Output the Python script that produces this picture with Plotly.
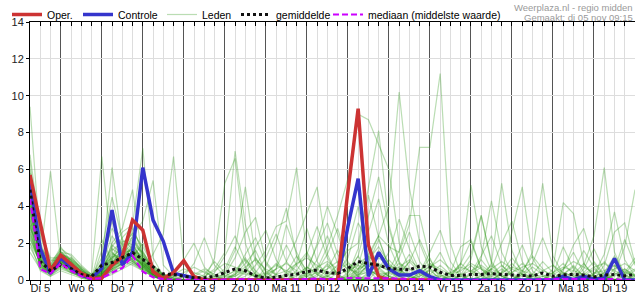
import pandas as pd
import plotly.graph_objects as go

# ---------------- data (mm per 6 hours) ----------------
start = "2024-11-05 06:00"
n_steps = 60
day_labels = ["Di 5", "Wo 6", "Do 7", "Vr 8", "Za 9", "Zo 10", "Ma 11", "Di 12",
              "Wo 13", "Do 14", "Vr 15", "Za 16", "Zo 17", "Ma 18", "Di 19"]

oper = [5.7, 3.0, 0.5, 1.35, 0.85, 0.36, 0.1, 0.1, 0.8, 1.26,
        3.25, 2.7, 0.45, 0.08, 0.4, 1.05, 0.18, 0.0, 0.0, 0.0,
        0.0, 0.0, 0.0, 0.0, 0.0, 0.0, 0.0, 0.0, 0.0, 0.0,
        0.0, 4.8, 9.3, 1.9, 0.18, 0.0, 0.0, 0.0, 0.0, 0.0]

controle = [5.4, 1.7, 0.36, 1.2, 0.7, 0.27, 0.1, 0.63, 3.8, 0.8,
            1.5, 6.1, 3.25, 2.1, 0.36, 0.25, 0.1, 0.0, 0.0, 0.0,
            0.0, 0.0, 0.0, 0.0, 0.0, 0.0, 0.0, 0.0, 0.0, 0.0,
            0.0, 2.9, 5.5, 0.2, 1.5, 0.6, 0.27, 0.27, 0.5, 0.18,
            0.0, 0.0, 0.0, 0.0, 0.0, 0.0, 0.0, 0.0, 0.0, 0.0,
            0.0, 0.0, 0.2, 0.02, 0.2, 0.05, 0.08, 1.17, 0.0, 0.0]

gemiddelde = [4.9, 1.0, 0.5, 0.82, 0.62, 0.3, 0.18, 0.8, 0.95, 1.2,
              1.48, 1.12, 0.7, 0.33, 0.3, 0.2, 0.12, 0.12, 0.2, 0.4,
              0.6, 0.5, 0.22, 0.1, 0.15, 0.25, 0.32, 0.45, 0.54, 0.4,
              0.35, 0.63, 1.0, 0.9, 0.8, 0.63, 0.58, 0.55, 0.76, 0.7,
              0.42, 0.25, 0.25, 0.3, 0.3, 0.35, 0.3, 0.27, 0.22, 0.22,
              0.38, 0.2, 0.28, 0.3, 0.27, 0.17, 0.27, 0.3, 0.22, 0.3]

mediaan = [4.4, 0.6, 0.35, 0.9, 0.5, 0.2, 0.05, 0.1, 0.4, 0.65,
           1.32, 0.45, 0.15, 0.05, 0.02, 0.0, 0.0, 0.0, 0.0, 0.02,
           0.05, 0.05, 0.0, 0.0, 0.0, 0.02, 0.02, 0.05, 0.08, 0.05,
           0.05, 0.1, 0.1, 0.12, 0.1, 0.1, 0.08, 0.05, 0.05, 0.05,
           0.02, 0.0, 0.0, 0.0, 0.0, 0.02, 0.02, 0.0, 0.0, 0.0,
           0.05, 0.05, 0.05, 0.05, 0.05, 0.0, 0.05, 0.05, 0.0, 0.0]

leden_01 = [9.4, 2.0, 0.8, 1.5, 1.0, 0.4, 0.1, 0.5, 1.2, 1.8,  2.2, 1.5, 0.6, 0.2, 0.1, 0.0, 0.0, 0.1, 0.0, 0.2,
            0.5, 1.2, 0.3, 0.0, 0.0, 0.2, 0.8, 1.5, 0.6, 0.2,  0.0, 0.0, 0.3, 0.8, 0.4, 0.1, 0.0, 0.0, 0.2, 0.5,
            0.1, 0.0, 0.0, 0.0, 0.3, 0.8, 0.2, 0.0, 0.0, 0.0,  0.0, 0.1, 0.4, 0.2, 0.0, 0.0, 0.0, 0.3, 0.6, 0.2]
leden_02 = [6.5, 1.2, 5.9, 1.0, 0.5, 0.2, 0.0, 0.3, 0.8, 1.0,  1.6, 0.9, 0.4, 0.1, 0.0, 0.0, 0.0, 0.0, 0.2, 0.6,
            1.8, 0.7, 0.1, 0.0, 0.0, 0.0, 0.0, 0.3, 1.1, 2.4,  0.9, 0.2, 0.0, 0.0, 0.1, 0.4, 0.2, 0.0, 0.0, 0.0,
            0.0, 0.2, 0.9, 2.1, 0.6, 0.1, 0.0, 0.0, 0.0, 0.3,  1.0, 0.4, 0.0, 0.0, 0.0, 0.2, 0.1, 0.0, 0.0, 0.0]
leden_03 = [4.8, 0.9, 0.4, 1.3, 0.8, 0.3, 0.2, 6.7, 1.5, 0.9,  1.2, 2.0, 0.8, 0.3, 0.0, 0.0, 0.0, 0.0, 0.0, 0.0,
            0.3, 0.9, 1.6, 0.4, 0.0, 0.0, 0.0, 0.0, 0.0, 0.2,  0.6, 1.8, 4.0, 1.2, 0.3, 0.0, 0.0, 0.0, 0.0, 0.0,
            0.0, 0.0, 0.0, 0.1, 0.0, 0.0, 0.4, 1.2, 0.5, 0.0,  0.0, 0.0, 0.0, 0.3, 0.9, 0.2, 0.0, 0.0, 0.0, 0.0]
leden_04 = [3.6, 1.5, 0.6, 0.9, 1.2, 0.6, 0.1, 1.0, 6.1, 2.0,  1.4, 0.7, 0.3, 0.1, 0.0, 0.0, 0.2, 0.5, 0.1, 0.0,
            0.0, 0.0, 0.0, 0.2, 0.6, 1.9, 0.8, 0.1, 0.0, 0.0,  0.0, 0.2, 1.0, 0.6, 0.2, 0.0, 0.5, 1.4, 0.3, 0.0,
            0.0, 0.0, 0.2, 0.0, 0.0, 0.0, 0.0, 0.0, 0.3, 0.1,  0.0, 0.0, 0.6, 1.5, 0.4, 0.0, 0.0, 0.0, 0.0, 0.2]
leden_05 = [5.2, 0.7, 0.3, 1.1, 0.6, 0.3, 0.1, 0.4, 1.8, 2.6,  3.0, 7.15, 1.2, 0.2, 0.0, 0.0, 0.0, 0.0, 0.0, 0.0,
            0.0, 0.4, 1.2, 0.5, 0.0, 0.0, 0.0, 0.0, 0.2, 0.9,  0.3, 0.0, 0.0, 0.2, 0.6, 0.2, 0.0, 0.0, 0.0, 0.0,
            0.0, 0.0, 0.0, 0.3, 1.1, 0.4, 0.0, 0.0, 0.0, 0.0,  0.2, 0.0, 0.0, 0.0, 0.0, 0.0, 0.4, 1.3, 0.3, 0.0]
leden_06 = [2.8, 1.8, 1.0, 1.6, 0.9, 0.5, 0.2, 0.2, 0.6, 1.2,  2.4, 3.2, 5.4, 0.8, 0.2, 0.0, 0.0, 0.0, 0.0, 0.0,
            0.0, 0.0, 0.0, 0.0, 0.0, 0.3, 0.9, 2.8, 1.0, 0.2,  0.0, 0.0, 0.0, 0.4, 1.6, 0.7, 0.1, 0.0, 0.0, 0.0,
            0.0, 0.0, 0.0, 0.0, 0.0, 0.2, 0.6, 0.2, 0.0, 0.0,  0.0, 0.3, 1.8, 0.6, 0.0, 0.0, 0.0, 0.0, 0.2, 0.5]
leden_07 = [4.2, 1.1, 0.5, 0.8, 0.4, 0.2, 0.0, 0.8, 2.4, 1.5,  1.0, 0.6, 1.4, 2.5, 6.7, 0.9, 0.1, 0.0, 0.0, 0.0,
            0.0, 0.0, 0.0, 0.0, 0.0, 0.0, 0.0, 0.0, 0.3, 0.8,  0.2, 0.0, 0.0, 0.0, 0.0, 0.0, 0.3, 1.0, 0.4, 0.0,
            0.0, 0.0, 0.0, 0.0, 0.0, 0.0, 0.0, 0.6, 1.9, 0.5,  0.0, 0.0, 0.0, 0.0, 0.0, 0.0, 0.2, 0.0, 0.0, 0.0]
leden_08 = [3.0, 0.8, 0.3, 1.4, 1.1, 0.7, 0.3, 0.1, 0.5, 0.9,  1.9, 1.0, 0.5, 0.2, 0.0, 0.0, 0.0, 0.0, 1.2, 5.25,
            6.6, 2.0, 0.4, 0.0, 0.0, 0.0, 0.0, 0.0, 0.0, 0.0,  0.0, 0.4, 1.3, 0.5, 0.0, 0.0, 0.0, 0.0, 0.0, 0.6,
            1.5, 0.4, 0.0, 0.0, 0.0, 0.0, 0.0, 0.0, 0.0, 0.0,  0.0, 0.0, 0.0, 0.0, 0.4, 1.0, 0.3, 0.0, 0.0, 0.0]
leden_09 = [5.8, 2.4, 1.1, 1.0, 0.6, 0.3, 0.1, 2.2, 1.0, 0.8,  1.5, 0.8, 0.2, 0.0, 0.0, 0.0, 0.0, 0.2, 0.6, 1.5,
            7.0, 3.0, 1.0, 0.2, 0.0, 0.0, 0.0, 0.0, 0.0, 0.0,  0.0, 0.0, 0.2, 0.9, 2.2, 0.8, 0.2, 0.0, 0.0, 0.0,
            0.0, 0.0, 0.0, 0.0, 0.2, 0.0, 0.0, 0.0, 0.0, 0.0,  0.0, 0.0, 0.3, 0.8, 0.2, 0.0, 0.0, 0.0, 0.0, 0.0]
leden_10 = [2.2, 1.0, 0.7, 1.2, 0.7, 0.4, 0.2, 0.6, 3.2, 1.6,  1.1, 0.5, 0.2, 0.0, 0.0, 0.0, 0.0, 0.0, 0.0, 0.4,
            1.6, 5.05, 1.2, 0.2, 0.0, 0.0, 0.0, 0.0, 0.0, 0.0, 0.0, 0.0, 0.0, 0.0, 0.0, 0.3, 1.2, 2.6, 1.0, 0.2,
            0.0, 0.0, 0.0, 0.0, 0.0, 0.0, 0.0, 0.0, 0.0, 0.0,  0.0, 0.0, 0.0, 0.0, 0.0, 0.0, 0.0, 0.6, 2.2, 0.8]
leden_11 = [6.0, 1.4, 0.6, 1.7, 1.3, 0.6, 0.1, 0.3, 0.9, 1.3,  2.8, 1.6, 0.5, 0.0, 0.0, 0.0, 0.0, 0.0, 0.0, 0.0,
            0.0, 0.2, 0.8, 1.6, 2.9, 3.2, 6.1, 1.4, 0.3, 0.0,  0.0, 0.0, 0.0, 0.0, 0.0, 0.2, 0.6, 0.2, 0.0, 0.0,
            0.0, 0.0, 0.0, 0.0, 0.0, 0.0, 0.0, 0.0, 0.2, 0.7,  0.3, 0.0, 0.0, 0.0, 0.0, 0.0, 0.0, 0.0, 0.0, 0.0]
leden_12 = [3.4, 0.6, 0.2, 0.7, 0.5, 0.2, 0.0, 0.4, 1.2, 2.0,  2.5, 1.3, 0.6, 0.3, 0.1, 0.0, 0.0, 0.0, 0.0, 0.0,
            0.0, 0.0, 0.0, 0.0, 0.3, 1.0, 2.2, 3.6, 5.05, 1.4, 0.2, 0.0, 0.0, 0.0, 0.0, 0.0, 0.0, 0.0, 0.0, 0.0,
            0.0, 0.0, 0.3, 1.1, 3.5, 0.9, 0.2, 0.0, 0.0, 0.0,  0.0, 0.0, 0.0, 0.0, 0.0, 0.0, 0.0, 0.0, 0.0, 0.3]
leden_13 = [4.5, 1.3, 0.4, 1.1, 0.8, 0.4, 0.1, 0.2, 0.7, 1.1,  1.8, 1.2, 0.4, 0.1, 0.0, 0.0, 0.0, 0.0, 0.0, 0.0,
            0.0, 0.0, 0.0, 0.0, 0.0, 0.0, 0.0, 0.2, 0.6, 1.8,  3.5, 5.5, 9.0, 8.7, 7.3, 6.0, 2.0, 0.6, 0.1, 0.0,
            0.0, 0.0, 0.0, 0.0, 0.0, 0.0, 0.0, 0.0, 0.0, 0.2,  0.0, 0.0, 0.0, 0.0, 0.0, 0.0, 0.0, 0.0, 0.0, 0.0]
leden_14 = [2.6, 0.9, 0.5, 0.9, 0.6, 0.3, 0.1, 0.3, 0.6, 0.9,  1.3, 0.8, 0.3, 0.0, 0.0, 0.0, 0.0, 0.0, 0.0, 0.0,
            0.4, 1.1, 0.5, 0.0, 0.0, 0.0, 0.0, 0.0, 0.0, 0.3,  0.8, 1.6, 2.0, 5.0, 8.1, 3.0, 1.0, 0.3, 0.0, 0.0,
            0.0, 0.0, 0.0, 0.0, 0.0, 0.0, 0.3, 0.9, 0.3, 0.0,  0.0, 0.0, 0.0, 0.0, 0.0, 0.0, 0.0, 0.0, 0.4, 1.2]
leden_15 = [5.0, 1.6, 0.7, 1.3, 0.7, 0.3, 0.0, 0.1, 0.4, 0.8,  1.2, 0.9, 0.6, 0.2, 0.0, 0.0, 0.0, 0.0, 0.0, 0.0,
            0.0, 0.0, 0.0, 0.0, 0.0, 0.0, 0.2, 0.7, 0.3, 0.0,  0.0, 0.0, 0.6, 1.4, 2.4, 4.0, 10.2, 5.0, 2.0, 0.6,
            0.0, 0.0, 0.0, 0.0, 0.0, 0.0, 0.0, 0.0, 0.0, 0.0,  0.0, 0.0, 0.0, 0.0, 0.2, 0.6, 0.1, 0.0, 0.0, 0.0]
leden_16 = [3.8, 1.2, 0.4, 1.0, 0.9, 0.5, 0.2, 0.7, 1.4, 1.2,  1.0, 0.6, 0.2, 0.0, 0.0, 0.0, 0.0, 0.0, 0.0, 0.0,
            0.0, 0.0, 0.0, 0.0, 0.0, 0.0, 0.0, 0.0, 0.0, 0.2,  0.5, 0.9, 0.6, 1.2, 2.4, 1.8, 1.5, 3.0, 7.2, 7.2,
            11.2, 2.0, 0.3, 0.0, 0.0, 0.0, 0.0, 0.0, 0.0, 0.0, 0.0, 0.0, 0.0, 0.0, 0.0, 0.0, 0.0, 0.0, 0.0, 0.0]
leden_17 = [1.8, 0.7, 0.3, 0.6, 0.4, 0.2, 0.0, 0.2, 0.5, 0.7,  1.0, 0.6, 0.3, 0.1, 0.0, 0.0, 0.0, 0.0, 0.0, 0.0,
            0.0, 0.0, 0.0, 0.0, 0.0, 0.4, 1.3, 0.5, 0.0, 0.0,  0.0, 0.0, 0.0, 0.0, 0.0, 0.0, 0.0, 0.0, 0.4, 1.2,
            0.0, 0.2, 0.8, 5.15, 1.8, 0.5, 0.0, 0.0, 0.0, 0.0, 0.0, 0.0, 0.0, 0.0, 0.0, 0.0, 0.0, 0.0, 0.0, 0.0]
leden_18 = [4.0, 1.0, 0.6, 1.2, 0.5, 0.1, 0.0, 1.6, 4.5, 2.2,  1.7, 1.1, 0.4, 0.1, 0.0, 0.0, 0.0, 0.0, 0.0, 0.0,
            0.0, 0.0, 0.0, 0.0, 0.0, 0.0, 0.0, 0.0, 0.0, 0.0,  0.0, 0.0, 0.5, 1.0, 0.3, 0.0, 0.0, 0.0, 0.0, 0.0,
            0.0, 0.0, 0.0, 0.0, 1.2, 4.3, 1.5, 0.4, 0.0, 0.0,  0.0, 0.0, 0.0, 0.0, 0.0, 0.3, 1.0, 0.4, 0.0, 0.0]
leden_19 = [2.0, 0.5, 0.2, 0.5, 0.3, 0.1, 0.0, 0.1, 0.3, 0.6,  0.9, 0.5, 0.2, 0.0, 0.0, 0.0, 0.0, 0.0, 0.0, 0.0,
            0.2, 0.6, 0.2, 0.0, 0.0, 0.0, 0.0, 0.0, 0.0, 0.0,  0.0, 0.0, 0.0, 0.0, 0.0, 0.0, 0.0, 0.0, 0.0, 0.3,
            0.8, 0.3, 0.0, 0.0, 0.0, 0.9, 5.25, 1.6, 0.3, 0.0, 0.0, 0.0, 0.0, 0.0, 0.0, 0.0, 0.0, 0.0, 0.0, 0.0]
leden_20 = [3.2, 1.7, 0.9, 1.5, 1.4, 0.8, 0.3, 0.2, 0.6, 1.0,  1.6, 1.3, 0.7, 0.3, 0.1, 0.0, 0.0, 0.0, 0.0, 0.0,
            0.0, 0.0, 0.0, 0.0, 0.0, 0.0, 0.0, 0.0, 0.0, 0.0,  0.0, 0.0, 0.0, 0.0, 0.0, 0.0, 0.0, 0.0, 0.0, 0.0,
            0.0, 0.0, 0.0, 0.0, 0.0, 0.0, 0.4, 2.6, 5.05, 1.2, 0.2, 0.0, 0.0, 0.0, 0.0, 0.0, 0.0, 0.0, 0.0, 0.0]
leden_21 = [5.5, 1.9, 0.8, 1.8, 1.0, 0.4, 0.1, 0.5, 1.1, 1.4,  2.0, 1.0, 0.3, 0.0, 0.0, 0.0, 0.0, 0.0, 0.0, 0.0,
            0.0, 0.0, 0.0, 0.0, 0.0, 0.0, 0.0, 0.0, 0.0, 0.0,  0.0, 0.0, 0.0, 0.0, 0.0, 0.0, 0.0, 0.0, 0.2, 0.6,
            0.3, 0.0, 0.0, 0.0, 0.0, 0.0, 0.0, 0.0, 0.4, 1.5,  5.25, 1.3, 0.3, 0.0, 0.0, 0.0, 0.0, 0.0, 0.0, 0.0]
leden_22 = [2.4, 0.8, 0.4, 1.0, 0.7, 0.4, 0.1, 0.3, 0.9, 1.7,  2.1, 1.4, 0.5, 0.2, 0.0, 0.0, 0.0, 0.0, 0.0, 0.0,
            0.0, 0.0, 0.0, 0.0, 0.0, 0.0, 0.0, 0.0, 0.0, 0.0,  0.0, 0.0, 0.3, 0.6, 0.2, 0.0, 0.0, 0.0, 0.0, 0.0,
            0.0, 0.0, 0.0, 0.0, 0.0, 0.0, 0.0, 0.0, 0.0, 0.0,  0.0, 0.6, 4.2, 3.6, 0.9, 0.2, 0.0, 0.0, 0.0, 0.0]
leden_23 = [4.6, 1.4, 0.5, 1.4, 1.2, 0.7, 0.2, 0.4, 0.7, 1.0,  1.4, 1.1, 0.5, 0.2, 0.0, 0.0, 0.0, 0.0, 0.0, 0.0,
            0.0, 0.0, 0.0, 0.0, 0.0, 0.0, 0.0, 0.0, 0.0, 0.0,  0.0, 0.0, 0.0, 0.0, 0.0, 0.0, 0.0, 0.0, 0.0, 0.0,
            0.0, 0.0, 0.0, 0.0, 0.0, 0.0, 0.0, 0.0, 0.0, 0.0,  0.0, 0.0, 0.0, 0.0, 0.8, 2.4, 6.1, 1.5, 0.3, 0.0]
leden_24 = [1.5, 0.6, 0.3, 0.8, 0.6, 0.3, 0.1, 0.3, 1.0, 1.4,  1.7, 0.9, 0.3, 0.0, 0.0, 0.0, 0.0, 0.0, 0.0, 0.0,
            0.0, 0.0, 0.0, 0.3, 0.9, 0.4, 0.0, 0.0, 0.0, 0.0,  0.0, 0.0, 0.0, 0.0, 0.0, 0.0, 0.0, 0.0, 0.0, 0.0,
            0.0, 0.0, 0.0, 0.0, 0.0, 0.0, 0.0, 0.0, 0.0, 0.0,  0.0, 0.0, 0.0, 0.0, 0.0, 0.3, 1.4, 3.7, 1.1, 0.2]
leden_25 = [3.0, 1.1, 0.6, 1.1, 0.8, 0.4, 0.2, 0.9, 1.7, 1.3,  1.3, 0.7, 0.2, 0.0, 0.0, 0.0, 0.0, 0.0, 0.0, 0.0,
            0.0, 0.0, 0.0, 0.0, 0.0, 0.0, 0.0, 0.0, 0.0, 0.0,  0.0, 0.0, 0.0, 0.0, 0.0, 0.0, 0.0, 0.0, 0.0, 0.0,
            0.0, 0.0, 0.0, 0.0, 0.0, 0.0, 0.0, 0.0, 0.0, 0.0,  0.0, 0.0, 0.0, 0.0, 0.0, 0.0, 0.0, 0.4, 1.8, 4.9]
leden_26 = [4.3, 0.9, 0.3, 0.9, 0.7, 0.2, 0.0, 0.6, 1.3, 1.1,  0.9, 0.6, 0.3, 0.1, 0.0, 0.0, 0.0, 0.0, 0.0, 0.0,
            0.0, 0.0, 0.0, 0.0, 0.0, 0.0, 0.0, 0.0, 0.0, 0.0,  0.0, 0.0, 0.0, 0.0, 0.0, 0.0, 0.0, 0.0, 0.0, 0.0,
            0.0, 0.0, 0.6, 1.4, 3.5, 1.0, 0.2, 0.0, 0.0, 0.0,  0.0, 0.0, 0.0, 0.0, 0.0, 0.0, 0.0, 0.0, 0.0, 0.0]
leden_27 = [3.5, 1.3, 0.7, 1.3, 1.0, 0.5, 0.2, 0.5, 2.0, 2.8,  4.9, 1.0, 0.4, 0.1, 0.0, 0.2, 0.9, 2.3, 0.8, 0.2,
            0.2, 0.5, 0.3, 0.1, 0.0, 0.0, 0.3, 0.7, 0.4, 0.1,  0.0, 0.2, 0.6, 0.9, 0.5, 0.2, 0.0, 0.0, 0.3, 0.8,
            0.5, 0.1, 0.0, 0.0, 0.2, 0.6, 0.3, 0.0, 0.0, 0.0,  0.0, 0.4, 0.9, 0.3, 0.0, 0.0, 0.0, 0.2, 0.5, 0.1]
leden_28 = [2.0, 1.0, 0.5, 1.1, 0.8, 0.3, 0.1, 0.4, 0.8, 1.1,  1.4, 0.8, 0.3, 0.0, 0.0, 0.0, 0.0, 0.0, 0.0, 0.3,
            1.2, 2.6, 3.4, 1.0, 0.3, 0.0, 0.0, 0.0, 0.0, 0.0,  0.0, 0.0, 0.4, 1.1, 1.8, 0.9, 0.4, 0.2, 0.0, 0.0,
            0.0, 0.0, 0.0, 0.3, 0.7, 0.2, 0.0, 0.0, 0.5, 1.3,  0.6, 0.1, 0.0, 0.0, 0.0, 0.0, 0.3, 0.8, 0.2, 0.0]
leden_29 = [6.8, 2.6, 1.2, 1.2, 0.5, 0.3, 0.1, 0.2, 0.5, 0.9,  1.1, 0.7, 0.2, 0.0, 0.0, 0.0, 0.0, 0.0, 0.0, 0.0,
            0.0, 0.0, 0.0, 0.0, 0.6, 3.0, 1.5, 0.4, 0.0, 0.0,  0.0, 0.0, 0.2, 0.5, 0.8, 0.5, 0.3, 1.0, 2.2, 0.9,
            0.2, 0.0, 0.0, 0.0, 0.0, 0.0, 0.0, 0.4, 0.9, 0.3,  0.0, 0.0, 0.0, 0.5, 1.6, 0.7, 0.1, 0.0, 0.0, 0.0]
leden_30 = [2.9, 0.7, 0.4, 0.7, 0.4, 0.2, 0.1, 0.3, 0.9, 1.6,  2.6, 1.8, 0.8, 0.3, 0.1, 0.0, 0.0, 0.0, 0.0, 0.0,
            0.0, 0.0, 0.0, 0.0, 0.0, 0.0, 0.0, 0.4, 2.0, 4.0,  2.5, 0.8, 0.2, 0.0, 0.0, 0.0, 0.0, 0.0, 0.0, 0.0,
            0.0, 0.0, 0.2, 0.8, 0.3, 0.0, 0.0, 0.0, 0.0, 0.0,  0.0, 0.0, 0.0, 0.0, 0.0, 0.4, 0.2, 0.0, 0.3, 1.0]
leden_31 = [4.9, 1.5, 0.6, 1.0, 0.6, 0.3, 0.1, 0.4, 1.0, 1.2,  1.5, 0.8, 0.3, 0.0, 0.0, 0.0, 0.0, 0.0, 0.0, 0.0,
            0.0, 0.0, 0.4, 1.2, 2.5, 1.0, 0.3, 0.0, 0.0, 0.0,  0.0, 0.0, 0.0, 0.3, 0.6, 1.1, 0.5, 0.1, 0.0, 0.0,
            0.0, 0.4, 1.8, 2.2, 0.6, 0.0, 0.0, 0.0, 0.0, 0.0,  0.0, 0.0, 0.0, 0.0, 0.0, 0.0, 0.0, 0.3, 0.6, 0.2]
leden_32 = [3.3, 1.2, 0.5, 1.2, 0.9, 0.5, 0.2, 1.2, 2.8, 1.9,  1.2, 0.8, 0.4, 0.1, 0.0, 0.0, 0.0, 0.0, 0.0, 0.0,
            0.0, 0.0, 0.0, 0.0, 0.0, 0.0, 0.0, 0.0, 0.5, 1.4,  2.8, 1.0, 0.3, 0.4, 0.9, 0.6, 0.2, 0.0, 0.0, 0.0,
            0.0, 0.0, 0.0, 0.0, 0.0, 0.3, 0.8, 0.3, 0.0, 0.0,  0.0, 0.0, 0.3, 0.7, 0.2, 0.0, 0.0, 0.0, 0.0, 0.0]
leden_33 = [4.1, 1.2, 0.5, 1.0, 0.7, 0.3, 0.1, 0.6, 1.5, 1.0,  0.8, 0.5, 0.2, 0.0, 0.3, 1.1, 2.0, 0.7, 0.2, 0.0,
            0.0, 0.5, 1.8, 2.7, 1.1, 0.3, 0.0, 0.0, 0.0, 0.0,  0.4, 1.2, 3.1, 2.0, 0.7, 0.2, 0.0, 0.0, 0.0, 0.0,
            0.0, 0.0, 0.0, 0.4, 1.3, 2.4, 0.8, 0.2, 0.0, 0.0,  0.0, 0.0, 0.0, 0.0, 0.6, 1.7, 0.5, 0.0, 0.0, 0.0]
leden_34 = [2.7, 0.8, 0.3, 0.8, 0.5, 0.2, 0.0, 0.3, 0.9, 1.3,  1.7, 1.0, 0.4, 0.1, 0.0, 0.0, 0.0, 0.0, 0.4, 1.3,
            2.4, 1.0, 0.3, 0.0, 0.0, 0.0, 0.5, 1.4, 2.9, 1.2,  0.3, 0.0, 0.8, 2.6, 4.4, 1.9, 0.6, 0.1, 0.0, 0.0,
            0.0, 0.0, 0.0, 0.0, 0.0, 0.0, 0.0, 0.0, 0.3, 0.9,  2.3, 0.8, 0.2, 0.0, 0.0, 0.0, 0.0, 0.0, 0.0, 0.0]
leden_35 = [5.3, 1.7, 0.7, 1.5, 1.1, 0.5, 0.2, 0.4, 1.1, 1.9,  2.3, 1.2, 0.5, 0.2, 0.0, 0.0, 0.0, 0.3, 1.0, 0.4,
            0.0, 0.0, 0.0, 0.7, 2.1, 3.9, 1.3, 0.2, 0.0, 0.0,  0.0, 0.0, 0.0, 0.0, 0.6, 1.5, 3.3, 1.7, 0.5, 0.0,
            0.0, 0.3, 0.9, 0.4, 0.0, 0.0, 0.0, 0.0, 0.0, 0.0,  0.0, 0.0, 0.5, 1.9, 2.8, 0.9, 0.2, 0.0, 0.0, 0.0]
leden_36 = [3.9, 1.1, 0.6, 1.2, 0.8, 0.4, 0.1, 0.7, 1.9, 1.4,  1.1, 0.7, 0.3, 0.0, 0.0, 0.0, 0.0, 0.0, 0.0, 0.0,
            0.0, 0.0, 0.0, 0.0, 0.0, 0.0, 0.0, 0.6, 1.9, 3.1,  1.4, 0.5, 1.3, 3.4, 5.6, 2.8, 0.9, 0.2, 0.0, 0.0,
            0.0, 0.0, 0.0, 0.0, 0.0, 0.6, 2.0, 3.2, 1.0, 0.2,  0.0, 0.0, 0.0, 0.0, 0.0, 0.0, 0.0, 0.0, 0.0, 0.0]
leden_37 = [2.3, 0.9, 0.4, 0.9, 0.6, 0.3, 0.1, 0.2, 0.7, 1.2,  1.9, 1.5, 0.7, 0.2, 0.0, 0.0, 0.0, 0.0, 0.0, 0.0,
            0.3, 1.4, 2.3, 0.9, 0.2, 0.0, 0.0, 0.0, 0.0, 0.6,  1.6, 0.7, 0.2, 0.0, 0.0, 0.5, 1.6, 3.5, 3.5, 1.1,
            0.3, 0.0, 0.0, 0.0, 0.0, 0.0, 0.0, 0.0, 0.0, 0.0,  0.0, 0.0, 0.0, 0.0, 0.0, 0.0, 0.8, 2.6, 3.1, 0.9]
leden_38 = [4.7, 1.3, 0.5, 1.3, 1.0, 0.6, 0.2, 0.3, 0.6, 0.9,  1.3, 0.9, 0.4, 0.1, 0.0, 0.0, 0.0, 0.0, 0.0, 0.0,
            0.0, 0.0, 0.0, 0.0, 0.0, 0.0, 0.0, 0.0, 0.0, 0.0,  0.0, 0.3, 1.7, 4.6, 2.3, 0.6, 0.0, 0.0, 0.4, 1.5,
            2.7, 1.0, 0.2, 0.0, 0.0, 0.0, 0.0, 0.0, 0.0, 0.0,  0.0, 0.0, 0.0, 0.0, 0.0, 0.0, 0.0, 0.0, 0.0, 0.0]
leden_39 = [3.1, 1.0, 0.4, 1.1, 0.8, 0.4, 0.1, 0.5, 1.3, 2.3,  2.9, 1.4, 0.5, 0.1, 0.0, 0.0, 0.0, 0.0, 0.0, 0.0,
            0.0, 0.0, 0.0, 0.0, 0.0, 0.0, 0.0, 0.0, 0.0, 0.0,  0.0, 0.0, 0.0, 0.0, 0.0, 0.0, 0.0, 0.0, 0.0, 0.0,
            0.0, 0.0, 0.0, 0.0, 0.0, 0.0, 0.0, 0.0, 0.0, 0.0,  0.0, 0.0, 0.0, 0.0, 0.0, 0.0, 0.0, 0.0, 0.0, 0.0]
leden_40 = [3.7, 1.4, 0.7, 1.4, 1.1, 0.6, 0.3, 0.8, 1.2, 1.5,  1.6, 0.9, 0.4, 0.2, 0.3, 0.6, 0.4, 0.2, 0.5, 0.9,
            0.7, 0.4, 0.2, 0.3, 0.6, 0.9, 0.5, 0.3, 0.7, 1.0,  0.6, 0.4, 0.9, 1.3, 0.8, 0.5, 0.7, 1.1, 0.6, 0.3,
            0.2, 0.4, 0.7, 0.5, 0.3, 0.6, 1.0, 0.6, 0.3, 0.2,  0.5, 0.8, 0.4, 0.2, 0.3, 0.7, 0.9, 0.5, 0.3, 0.6]
leden_41 = [5.0, 1.6, 0.6, 1.2, 0.9, 0.4, 0.2, 0.5, 0.9, 1.1,  1.3, 0.8, 0.5, 0.3, 0.2, 0.4, 0.7, 0.4, 0.2, 0.1,
            0.3, 0.7, 1.1, 0.6, 0.3, 0.5, 0.9, 1.2, 0.8, 0.4,  0.3, 0.5, 0.8, 0.5, 0.3, 0.4, 0.9, 0.6, 0.4, 0.7,
            1.1, 0.6, 0.3, 0.5, 0.8, 0.4, 0.2, 0.4, 0.7, 0.9,  0.5, 0.3, 0.6, 1.0, 0.7, 0.4, 0.5, 0.8, 0.4, 0.3]
leden_42 = [2.5, 0.9, 0.4, 0.9, 0.6, 0.3, 0.1, 0.6, 1.6, 2.1,  1.9, 1.1, 0.5, 0.3, 0.2, 0.1, 0.3, 0.6, 0.3, 0.2,
            0.5, 0.3, 0.2, 0.4, 0.8, 0.5, 0.3, 0.2, 0.4, 0.6,  1.0, 0.6, 0.4, 0.7, 1.2, 0.8, 0.5, 0.3, 0.5, 0.9,
            0.6, 0.3, 0.5, 0.9, 0.6, 0.3, 0.4, 0.7, 0.5, 0.3,  0.2, 0.4, 0.7, 0.5, 0.3, 0.2, 0.4, 0.6, 0.9, 0.5]

leden = [leden_01, leden_02, leden_03, leden_04, leden_05, leden_06, leden_07, leden_08,
         leden_09, leden_10, leden_11, leden_12, leden_13, leden_14, leden_15, leden_16,
         leden_17, leden_18, leden_19, leden_20, leden_21, leden_22, leden_23, leden_24,
         leden_25, leden_26, leden_27, leden_28, leden_29, leden_30, leden_31, leden_32,
         leden_33, leden_34, leden_35, leden_36, leden_37, leden_38, leden_39, leden_40,
         leden_41, leden_42]

# ---------------- figure ----------------
FONT = "Liberation Sans, Arial, sans-serif"
times = pd.date_range(start, periods=n_steps, freq="6h")
noon = pd.date_range("2024-11-05 12:00", periods=len(day_labels), freq="1D")
xrange = [times[0], times[-1]]

fig = go.Figure()

for k, m in enumerate(leden):
    fig.add_trace(go.Scatter(
        x=times[:len(m)], y=m, mode="lines", name="Leden",
        line=dict(color="rgba(40,150,20,0.32)", width=1.2),
        showlegend=(k == 0), legend="legend3", hoverinfo="skip"))

fig.add_trace(go.Scatter(x=times[:len(controle)], y=controle, mode="lines", name="Controle",
                         line=dict(color="#3535cc", width=3.5), legend="legend2"))
fig.add_trace(go.Scatter(x=times[:len(oper)], y=oper, mode="lines", name="Oper.",
                         line=dict(color="#cc3333", width=3.5), legend="legend"))
fig.add_trace(go.Scatter(x=times[:len(gemiddelde)], y=gemiddelde, mode="lines", name="gemiddelde",
                         line=dict(color="#111111", width=3, dash="dot"), legend="legend4"))
fig.add_trace(go.Scatter(x=times[:len(mediaan)], y=mediaan, mode="lines",
                         name="mediaan (middelste waarde)",
                         line=dict(color="#cc00ff", width=2.2, dash="6px,3px"), legend="legend5"))


def leg(px):
    return dict(x=(px - 30) / 605, xanchor="left", y=1.03, yanchor="middle",
                orientation="h", bgcolor="rgba(0,0,0,0)", borderwidth=0,
                font=dict(family=FONT, size=10.5, color="#000"), itemwidth=30)


fig.update_layout(
    width=635, height=300, autosize=False,
    margin=dict(l=30, r=0, t=20, b=20),
    paper_bgcolor="white", plot_bgcolor="white",
    hovermode=False,
    font=dict(family=FONT, size=11, color="#222"),
    legend=leg(7), legend2=leg(78), legend3=leg(162), legend4=leg(236), legend5=leg(328),
    xaxis=dict(type="date", range=xrange, tick0="2024-11-05", dtick=86400000,
               showgrid=True, gridcolor="#555555", gridwidth=1,
               ticks="outside", ticklen=4, tickcolor="#000",
               showticklabels=False, showline=True, linecolor="#000", linewidth=1,
               zeroline=False,
               minor=dict(dtick=21600000, tick0="2024-11-05", showgrid=True,
                          gridcolor="#dddddd", gridwidth=1,
                          ticks="outside", ticklen=4, tickcolor="#000")),
    xaxis2=dict(type="date", range=xrange, overlaying="x", anchor="y", side="bottom",
                tickmode="array", tickvals=noon, ticktext=day_labels,
                showgrid=False, ticks="", showline=False, zeroline=False,
                tickfont=dict(family=FONT, size=11, color="#222")),
    xaxis3=dict(type="date", range=xrange, overlaying="x", anchor="y", side="top",
                tick0="2024-11-05", dtick=21600000, ticks="inside", ticklen=4,
                tickcolor="#000", showgrid=False, showticklabels=False,
                showline=True, linecolor="#000", linewidth=1, zeroline=False),
    yaxis=dict(range=[0, 14], tick0=0, dtick=2, showgrid=True, gridcolor="#dddddd",
               ticks="outside", ticklen=3, tickcolor="#000", showline=True,
               linecolor="#000", linewidth=1, zeroline=False,
               tickfont=dict(family=FONT, size=11, color="#222")),
    annotations=[
        dict(text="Weerplaza.nl - regio midden", xref="paper", yref="paper",
             x=1, xanchor="right", y=(280 - 5) / 260, yanchor="middle", showarrow=False,
             font=dict(family=FONT, size=9.5, color="#9a9a9a")),
        dict(text="Gemaakt: di 05 nov 09:15", xref="paper", yref="paper",
             x=1, xanchor="right", y=(280 - 15.5) / 260, yanchor="middle", showarrow=False,
             font=dict(family=FONT, size=9.5, color="#9a9a9a")),
    ],
)

# dummy traces so overlay axes are active
fig.add_trace(go.Scatter(x=[times[0]], y=[None], xaxis="x2", showlegend=False, hoverinfo="skip"))
fig.add_trace(go.Scatter(x=[times[0]], y=[None], xaxis="x3", showlegend=False, hoverinfo="skip"))

fig.write_html("out.html")
